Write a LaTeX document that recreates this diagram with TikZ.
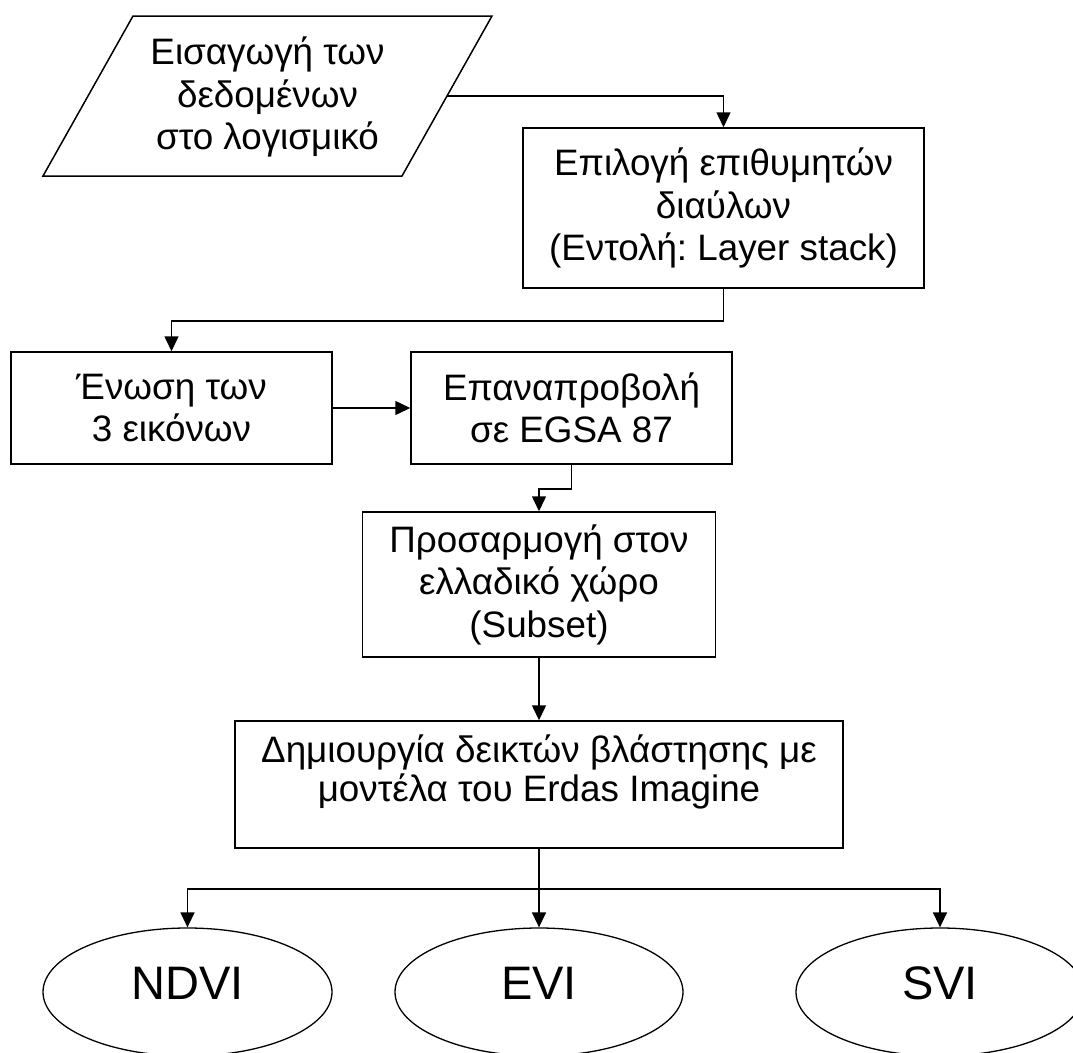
\documentclass[tikz,border=0pt]{standalone}
\usepackage{fontspec}
\setmainfont{Liberation Sans}
\usetikzlibrary{arrows.meta,shapes.geometric}
\frenchspacing
\begin{document}
\begin{tikzpicture}[x=1pt,y=-1pt,line width=1.5pt,
  box/.style={draw,rectangle,inner sep=0pt,align=center,
    font=\fontsize{36.8}{42.5}\selectfont},
  txt/.style={inner sep=0pt,align=center,font=\fontsize{36.8}{38.5}\selectfont},
  oval/.style={draw,ellipse,inner sep=0pt,line width=1.3pt,
    minimum width=289pt,minimum height=128pt,text height=34pt,text depth=20pt,
    font=\fontsize{47}{50}\selectfont},
  link/.style={-{Triangle[length=15pt,width=14pt]}}]
\clip (0,0) rectangle (1073,1052);
\fill[white] (0,0) rectangle (1073,1052);

% input parallelogram
\coordinate (pTL) at (133,16);
\coordinate (pTR) at (492,16);
\coordinate (pBR) at (402,176);
\coordinate (pBL) at (43,176);
\coordinate (inR) at (447,96);
\draw (pTL) -- (pTR) -- (pBR) -- (pBL) -- cycle;
\node[txt,font=\fontsize{36.8}{42.5}\selectfont] (input) at (267.5,97)
  {Εισαγωγή των\\δεδομένων\\στο λογισμικό};

% processing steps
\node[box,minimum width=401pt,minimum height=160pt] (sel) at (723.5,208)
  {Επιλογή επιθυμητών\\διαύλων\\(Εντολή: Layer stack)};
\node[box,minimum width=321pt,minimum height=112pt] (join) at (171.5,408)
  {Ένωση των\\3 εικόνων};
\node[box,minimum width=321pt,minimum height=112pt] (reproj) at (571.5,408)
  {Επαναπροβολή\\σε EGSA 87};
\node[box,minimum width=353pt,minimum height=145pt] (subset) at (539,584.5)
  {Προσαρμογή στον\\ελλαδικό χώρο\\(Subset)};
\node[box,minimum width=608pt,minimum height=127pt] (model) at (539,784.5) {};
\node[txt] (modeltext) at (539,772)
  {Δημιουργία δεικτών βλάστησης με\\μοντέλα του Erdas Imagine};

% vegetation indices
\node[oval] (ndvi) at (187.5,992) {NDVI};
\node[oval,minimum width=288pt] (evi) at (539,992) {EVI};
\node[oval,minimum width=288pt] (svi) at (940,992) {SVI};

% connectors
\draw[link] (inR) -| (sel.north);
\draw[link] (sel.south) -- ++(0,32) -| (join.north);
\draw[link] (join.east) -- (reproj.west);
\draw[link] (reproj.south) -- ++(0,24) -| (subset.north);
\draw[link] (subset.south) -- (model.north);
\draw[link] (model.south) -- (evi.north);
\coordinate (fork) at (539,889);
\draw[link] (fork) -| (ndvi.north);
\draw[link] (fork) -| (svi.north);
\end{tikzpicture}
\end{document}
